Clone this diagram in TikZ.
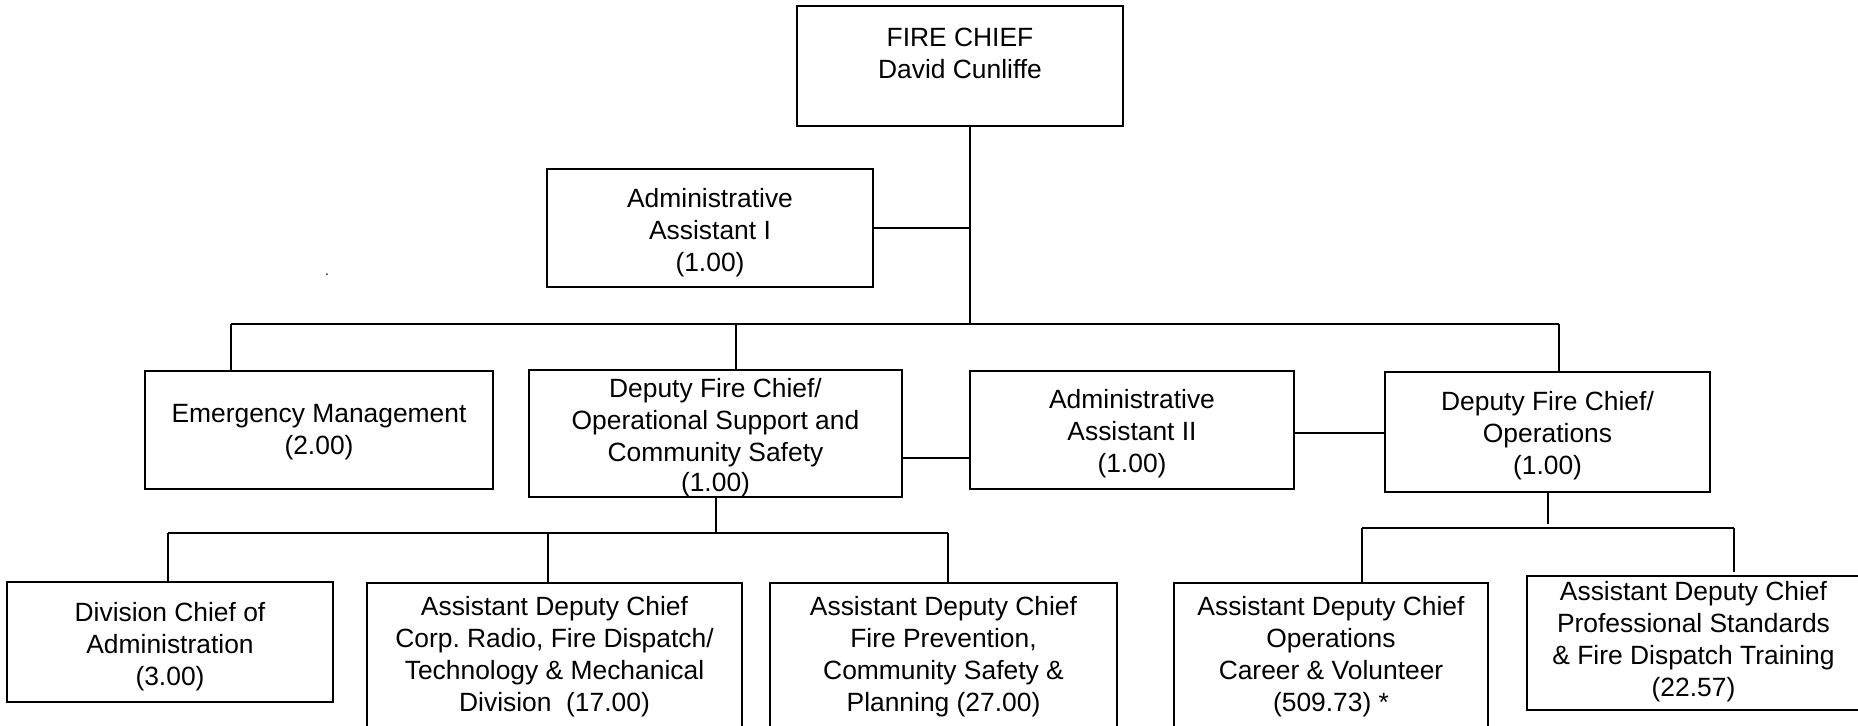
\documentclass[tikz,border=0pt]{standalone}
\usepackage{fontspec}
\setmainfont{Liberation Sans}
\frenchspacing
\begin{document}
\begin{tikzpicture}[x=0.5pt,y=-0.5pt,
  orgbox/.style={draw=black, line width=1pt, rectangle, inner sep=0pt, fill=white},
  orgtext/.style={anchor=north, align=center, inner sep=0pt,
    font=\fontsize{13.2}{16}\selectfont},
  link/.style={draw=black, line width=0.9pt}]
\useasboundingbox (0,0) rectangle (1858,725);

% ---- boxes (sizes in pt = half the drawing units) ----
\node[orgbox, minimum width=163pt, minimum height=60pt]   (chief)    at (960,66)     {};
\node[orgbox, minimum width=163pt, minimum height=59pt]   (aa1)      at (710,228)    {};
\node[orgbox, minimum width=174pt, minimum height=59pt]   (emerg)    at (319,430)    {};
\node[orgbox, minimum width=186.5pt, minimum height=63.5pt] (dfcos)  at (715.5,433.5) {};
\node[orgbox, minimum width=162pt, minimum height=59pt]   (aa2)      at (1132,430)   {};
\node[orgbox, minimum width=162.5pt, minimum height=60pt] (dfcops)   at (1547.5,432) {};
\node[orgbox, minimum width=163pt, minimum height=60pt]   (divchief) at (170,642)    {};
\node[orgbox, minimum width=187.5pt, minimum height=78.5pt] (radio)  at (554.5,661.5) {};
\node[orgbox, minimum width=173.5pt, minimum height=78.5pt] (prev)   at (943.5,661.5) {};
\node[orgbox, minimum width=157pt, minimum height=78.5pt] (ops)      at (1331,661.5) {};
\node[orgbox, minimum width=166.5pt, minimum height=67pt] (prof)     at (1693.5,643) {};

% ---- texts (placed by the top of the first line) ----
\node[orgtext] (tchief)    at (960,28)    {FIRE CHIEF\\David Cunliffe};
\node[orgtext] (taa1)      at (710,188)   {Administrative\\Assistant I\\(1.00)};
\node[orgtext] (temerg)    at (319,404)   {Emergency Management\\(2.00)};
\node[orgtext] (tdfcos)    at (715.5,378) {Deputy Fire Chief/\\Operational Support and\\Community Safety\\[-1pt](1.00)};
\node[orgtext] (taa2)      at (1132,389)  {Administrative\\Assistant II\\(1.00)};
\node[orgtext] (tdfcops)   at (1547.5,391) {Deputy Fire Chief/\\Operations\\(1.00)};
\node[orgtext] (tdivchief) at (170,602)   {Division Chief of\\Administration\\(3.00)};
\node[orgtext] (tradio)    at (554.5,596) {Assistant Deputy Chief\\Corp. Radio, Fire Dispatch/\\Technology \& Mechanical\\Division~~(17.00)};
\node[orgtext] (tprev)     at (943.5,596) {Assistant Deputy Chief\\Fire Prevention,\\Community Safety \&\\Planning (27.00)};
\node[orgtext] (tops)      at (1331,596)  {Assistant Deputy Chief\\Operations\\Career \& Volunteer\\(509.73) *};
\node[orgtext] (tprof)     at (1693.5,581) {Assistant Deputy Chief\\Professional Standards\\\& Fire Dispatch Training\\(22.57)};

% stray full stop at the left
\node[inner sep=0pt, font=\fontsize{7}{8}\selectfont] (dot) at (327,275) {.};

% ---- junction points of the connector buses ----
\coordinate (topbus) at (970,324);
\coordinate (busL)   at (231,324);
\coordinate (busM)   at (736,324);
\coordinate (busR)   at (1559,324);
\coordinate (osjoin) at (716,533);
\coordinate (osL)    at (168,533);
\coordinate (osM)    at (548,533);
\coordinate (osR)    at (948,533);
\coordinate (opsstub) at (1548,524);
\coordinate (opsL)   at (1362,528);
\coordinate (opsR)   at (1734,528);
\coordinate (profstub) at (1734,572);
\coordinate (oslink) at (936,458);
\coordinate (opslink) at (1340,433);

% ---- connectors ----
% fire chief down to the main bus, with the assistant branch
\draw[link] (chief.south -| topbus) -- (topbus);
\draw[link] (aa1.east) -- (aa1.east -| topbus);
\draw[link] (busL) -- (busR);
\draw[link] (busL) -- (emerg.north -| busL);
\draw[link] (busM) -- (dfcos.north -| busM);
\draw[link] (busR) -- (dfcops.north -| busR);

% side links on the deputy row
\draw[link] (dfcos.east |- oslink) -- (aa2.west |- oslink);
\draw[link] (aa2.east |- opslink) -- (dfcops.west |- opslink);

% operational support branch
\draw[link] (dfcos.south -| osjoin) -- (osjoin);
\draw[link] (osL) -- (osR);
\draw[link] (osL) -- (divchief.north -| osL);
\draw[link] (osM) -- (radio.north -| osM);
\draw[link] (osR) -- (prev.north -| osR);

% operations branch
\draw[link] (dfcops.south -| opsstub) -- (opsstub);
\draw[link] (opsL) -- (opsR);
\draw[link] (opsL) -- (ops.north -| opsL);
\draw[link] (opsR) -- (profstub);
\end{tikzpicture}
\end{document}
